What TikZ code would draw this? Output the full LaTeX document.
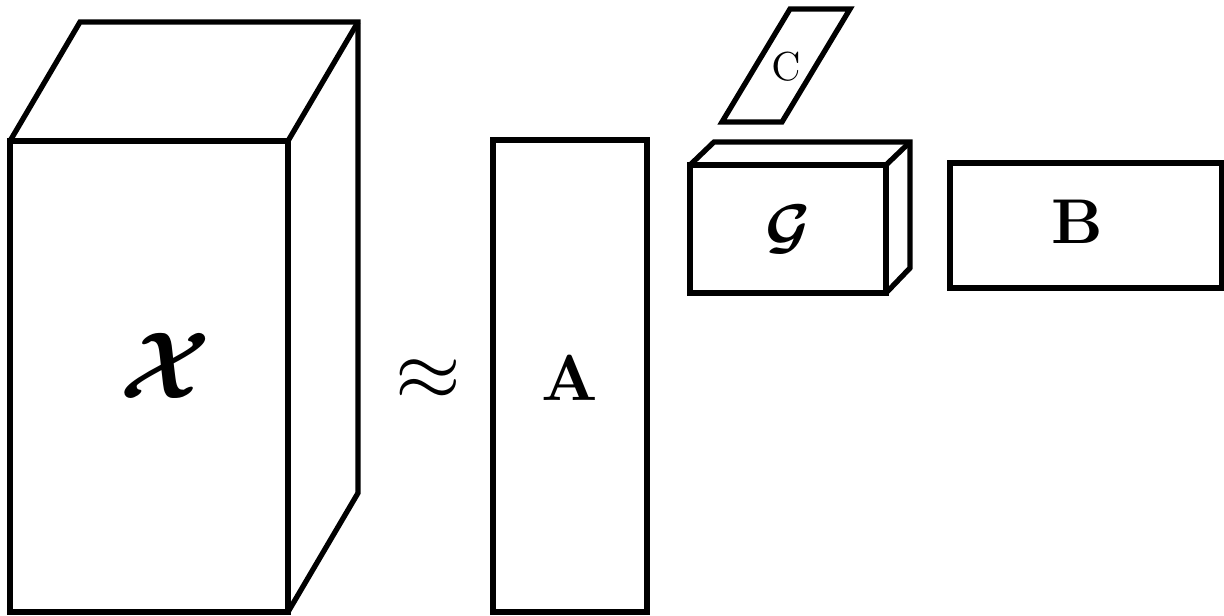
\documentclass[tikz,border=0pt]{standalone}
\usepackage{amsmath}
\usepackage{amssymb}
\usetikzlibrary{calc}

\begin{document}
\begin{tikzpicture}[x=0.01cm,y=-0.01cm,line width=1.5pt,inner sep=0pt]
\tikzset{glyph/.style={scale=#1}}
\useasboundingbox (0,0) rectangle (1224,615);

% tensor X
\coordinate (x1) at (10,141);
\coordinate (x2) at (288,141);
\coordinate (x3) at (288,612);
\draw (x1) rectangle (x3);
\draw (x1) -- ($(x1)+(70,-119)$) -- ($(x2)+(70,-119)$) coordinate (x5) -- ($(x3)+(70,-119)$) -- (x3);
\draw (x2) -- (x5);
\node[glyph=2.7] (tx) at (165,366) {$\boldsymbol{\mathcal{X}}$};

\node[glyph=2.4] (apx) at (428,380) {$\approx$};

% factor A
\coordinate (a1) at (493,140);
\coordinate (a2) at (647,612);
\draw (a1) rectangle (a2);
\node[glyph=1.85] (fa) at (570,378) {$\mathbf{A}$};

% core G
\coordinate (g1) at (690,165);
\coordinate (g2) at (886,165);
\coordinate (g3) at (886,293);
\draw (g1) rectangle (g3);
\draw (g1) -- ($(g1)+(24,-23)$) -- ($(g2)+(24,-23)$) coordinate (g5) -- ($(g3)+(24,-25)$) -- (g3);
\draw (g2) -- (g5);
\node[glyph=1.75] (cg) at (788,229) {$\boldsymbol{\mathcal{G}}$};

% factor C
\coordinate (c1) at (722,122);
\coordinate (c2) at (782,122);
\draw (c1) -- (c2) -- ($(c2)+(68,-113)$) -- ($(c1)+(68,-113)$) -- cycle;
\node[glyph=1.15] (fc) at (786,67) {$\mathrm{C}$};

% factor B
\coordinate (b1) at (950,163);
\coordinate (b2) at (1222,288);
\draw (b1) rectangle (b2);
\node[glyph=1.8] (fb) at (1077,222) {$\mathbf{B}$};
\end{tikzpicture}
\end{document}
